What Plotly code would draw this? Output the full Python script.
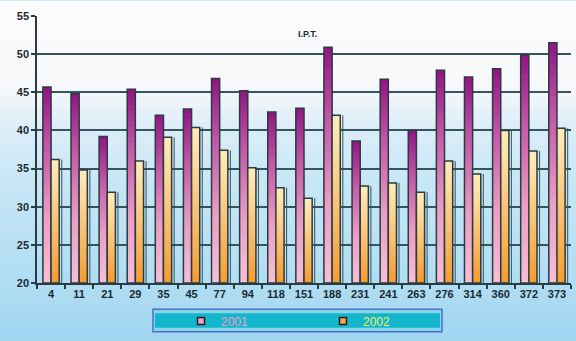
import plotly.graph_objects as go

# I.P.T. index per station, two survey years
stations = ["4", "11", "21", "29", "35", "45", "77", "94", "118", "151",
            "188", "231", "241", "263", "276", "314", "360", "372", "373"]
ipt_2001 = [45.7, 44.8, 39.2, 45.4, 42.0, 42.8, 46.8, 45.2, 42.4, 42.9,
            50.9, 38.6, 46.7, 40.0, 47.9, 47.0, 48.1, 49.9, 51.5]
ipt_2002 = [36.2, 34.8, 31.9, 36.0, 39.1, 40.4, 37.4, 35.1, 32.5, 31.1,
            42.0, 32.7, 33.1, 31.9, 36.0, 34.3, 40.0, 37.3, 40.3]
y_ticks = [20, 25, 30, 35, 40, 45, 50, 55]

W, H = 576, 341
ML, MR, MT, MB = 37, 5, 16, 51
Y0, Y1 = 20, 55
BAR_W = 0.29
N_SLICES = 36
EDGE = "#2b3b40"
GRID = "#35555b"
FONT = "Liberation Sans Narrow, Liberation Sans, Arial, sans-serif"


def hex_rgb(h):
    h = h.lstrip("#")
    return tuple(int(h[i:i + 2], 16) for i in (0, 2, 4))


def ramp(stops, t):
    """Piecewise-linear colour ramp; stops = [(pos, hex), ...]."""
    for (p0, c0), (p1, c1) in zip(stops, stops[1:]):
        if t <= p1:
            u = 0 if p1 == p0 else (t - p0) / (p1 - p0)
            a, b = hex_rgb(c0), hex_rgb(c1)
            return "rgb(%d,%d,%d)" % tuple(round(a[i] + (b[i] - a[i]) * u) for i in range(3))
    return "rgb(%d,%d,%d)" % hex_rgb(stops[-1][1])


# colour ramps, 0 = bar foot, 1 = bar top
ramp_2001 = [(0.0, "#f7c0d4"), (0.35, "#eb9ec4"), (0.7, "#c45aa8"), (1.0, "#951787")]
ramp_2002 = [(0.0, "#f59a2c"), (0.4, "#f8bb68"), (0.8, "#fddca0"), (1.0, "#feebb8")]
# page background, 0 = top edge, 1 = bottom edge
ramp_page = [(0.0, "#fdfcfc"), (0.26, "#f6f8fb"), (0.38, "#ddeef8"),
             (0.53, "#c8e7f6"), (0.85, "#b0ddf3"), (1.0, "#a2d6f0")]

fig = go.Figure()


def add_gradient_bars(values, offset, stops):
    # tallest (top colour) first, each later trace a shorter bar in a lower colour
    for k in range(N_SLICES):
        frac = 1 - k / N_SLICES
        fig.add_trace(go.Bar(
            x=stations, y=[(v - Y0) * frac for v in values], base=Y0,
            width=BAR_W, offset=offset,
            marker=dict(color=ramp(stops, frac), line=dict(width=0)),
            showlegend=False, hoverinfo="skip"))
    fig.add_trace(go.Bar(
        x=stations, y=[v - Y0 for v in values], base=Y0,
        width=BAR_W, offset=offset,
        marker=dict(color="rgba(0,0,0,0)", line=dict(color=EDGE, width=1.5)),
        showlegend=False, hoverinfo="skip"))


add_gradient_bars(ipt_2001, -BAR_W, ramp_2001)
add_gradient_bars(ipt_2002, 0, ramp_2002)

# thin drop-shadow line beside each 2002 bar
fig.add_trace(go.Bar(
    x=stations, y=[v - Y0 for v in ipt_2002], base=Y0,
    width=0.04, offset=BAR_W + 0.07,
    marker=dict(color="rgba(45,75,82,0.85)", line=dict(width=0)),
    showlegend=False, hoverinfo="skip"))

# legend entries
fig.add_trace(go.Scatter(
    x=[None], y=[None], mode="markers",
    name='<span style="color:#f39cc6">2001</span>',
    marker=dict(symbol="square", size=7, color="#f2a0c4", line=dict(color="#222", width=1.5))))
fig.add_trace(go.Scatter(
    x=[None], y=[None], mode="markers",
    name='<span style="color:#eef25a">2002</span>',
    marker=dict(symbol="square", size=7, color="#f5a24a", line=dict(color="#222", width=1.5))))

pw = W - ML - MR
ph = H - MT - MB


def px_x(p):
    return (p - ML) / pw


def px_y(p):
    return (H - MB - p) / ph


shapes = []
# vertical background gradient across the whole page
bands = 60
for i in range(bands):
    top = H * i / bands
    bot = H * (i + 1) / bands + 0.6
    shapes.append(dict(type="rect", xref="paper", yref="paper", layer="below",
                       x0=px_x(0), x1=px_x(W), y0=px_y(bot), y1=px_y(top),
                       fillcolor=ramp(ramp_page, (i + 0.5) / bands), line=dict(width=0)))
# legend box
shapes.append(dict(type="rect", xref="paper", yref="paper", layer="below",
                   x0=px_x(153), x1=px_x(442), y0=px_y(340), y1=px_y(317),
                   fillcolor="#86d6e8", line=dict(color="#4a6fcc", width=1.5)))
shapes.append(dict(type="rect", xref="paper", yref="paper", layer="below",
                   x0=px_x(155), x1=px_x(440), y0=px_y(336), y1=px_y(321),
                   fillcolor="#14b6cb", line=dict(width=0)))

fig.update_layout(
    width=W, height=H,
    margin=dict(l=ML, r=MR, t=MT, b=MB, pad=0),
    paper_bgcolor="#a2d6f0",
    plot_bgcolor="rgba(0,0,0,0)",
    barmode="overlay",
    shapes=shapes,
    font=dict(family=FONT, color="#1c2a30"),
    showlegend=True,
    legend=dict(orientation="h", x=px_x(181), y=px_y(329), xanchor="left", yanchor="middle",
                bgcolor="rgba(0,0,0,0)", borderwidth=0, entrywidth=97,
                font=dict(size=12, family="Liberation Sans, Arial, sans-serif")),
    annotations=[dict(text="I.P.T.", xref="paper", yref="paper",
                      x=px_x(307), y=px_y(34), xanchor="center", yanchor="middle",
                      showarrow=False,
                      font=dict(size=9, weight="bold", color="#1c2a30",
                                family="Liberation Sans, Arial, sans-serif"))],
    xaxis=dict(
        type="category", categoryorder="array", categoryarray=stations,
        tickson="boundaries", ticks="outside", ticklen=4, tickwidth=1.5, tickcolor=EDGE,
        showgrid=False, tickangle=0,
        showline=True, linecolor=EDGE, linewidth=1.5,
        tickfont=dict(size=11, weight="bold"), fixedrange=True),
    yaxis=dict(
        range=[Y0, Y1], tickvals=y_ticks, ticks="outside", ticklen=4, tickwidth=1.5,
        tickcolor=EDGE, showgrid=True, gridcolor=GRID, gridwidth=1.5,
        showline=True, linecolor=EDGE, linewidth=1.5, zeroline=False,
        tickfont=dict(size=11, weight="bold"), fixedrange=True),
)

fig.write_html("out.html")
